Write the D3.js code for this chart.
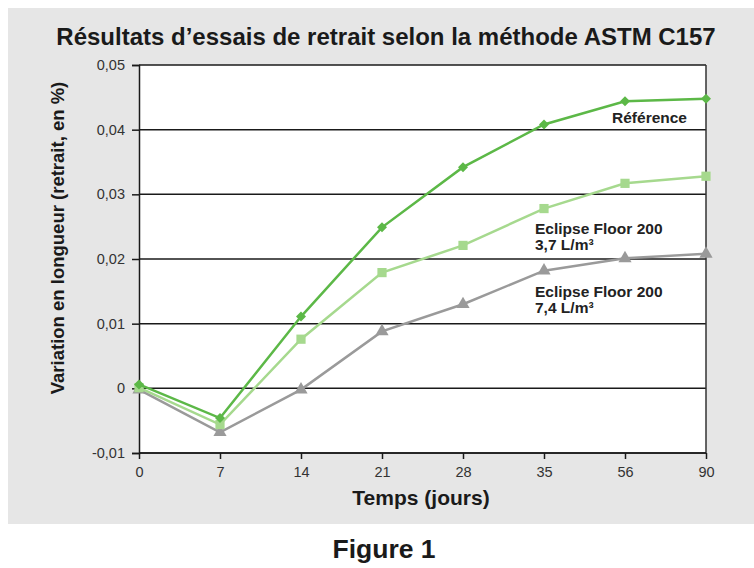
<!DOCTYPE html>
<html>
<head>
<meta charset="utf-8">
<script src="https://cdn.jsdelivr.net/npm/d3@7"></script>
<style>
  body { margin: 0; background: #fff; }
  svg { display: block; font-family: "Liberation Sans", Arial, sans-serif; }
</style>
</head>
<body>
<svg id="chart" width="754" height="568"></svg>
<script>
// days (categories on the x axis, evenly spaced)
var days = ["0", "7", "14", "21", "28", "35", "56", "90"];
var yTicks = [-0.01, 0, 0.01, 0.02, 0.03, 0.04, 0.05];

// series values, % shrinkage
var reference = [0.0006, -0.0046, 0.0111, 0.0249, 0.0342, 0.0408, 0.0444, 0.0448];
var eclipse37 = [0.0001, -0.0056, 0.0076, 0.0179, 0.0221, 0.0278, 0.0317, 0.0328];
var eclipse74 = [-0.0002, -0.0068, -0.0002, 0.0088, 0.0130, 0.0182, 0.0201, 0.0208];

var series = [
  {name: "eclipse74", values: eclipse74, color: "#9a9a9a", symbol: d3.symbolTriangle, size: 75, rot: 0},
  {name: "eclipse37", values: eclipse37, color: "#a6d98e", symbol: d3.symbolSquare, size: 85, rot: 0},
  {name: "reference", values: reference, color: "#5cb847", symbol: d3.symbolSquare, size: 50, rot: 45}
];

var svg = d3.select("#chart");

// grey panel
svg.append("rect")
  .attr("x", 8).attr("y", 8)
  .attr("width", 746).attr("height", 516)
  .attr("fill", "#e6e6e6");

var mLeft = 139, mRight = 706, mTop = 65, mBottom = 453;

var x = d3.scalePoint().domain(days).range([mLeft, mRight]);
var y = d3.scaleLinear().domain([-0.01, 0.05]).range([mBottom, mTop]);

// plot background
svg.append("rect")
  .attr("x", mLeft).attr("y", mTop)
  .attr("width", mRight - mLeft).attr("height", mBottom - mTop)
  .attr("fill", "#fff");

// horizontal grid lines
svg.append("g").selectAll("line")
  .data(yTicks)
  .enter().append("line")
  .attr("x1", mLeft).attr("x2", mRight)
  .attr("y1", function(d){ return y(d); })
  .attr("y2", function(d){ return y(d); })
  .attr("stroke", "#1a1a1a")
  .attr("stroke-width", 1.5);

// right border
svg.append("line")
  .attr("x1", mRight).attr("x2", mRight)
  .attr("y1", mTop).attr("y2", mBottom)
  .attr("stroke", "#333").attr("stroke-width", 1.5);

var fmt = function(d){ return d === 0 ? "0" : d3.format(".2f")(d).replace(".", ",").replace("−", "-"); };

var yAxis = svg.append("g")
  .attr("transform", "translate(" + mLeft + ",0)")
  .call(d3.axisLeft(y).tickValues(yTicks).tickSize(7).tickPadding(7).tickFormat(fmt));

var xAxis = svg.append("g")
  .attr("transform", "translate(0," + mBottom + ")")
  .call(d3.axisBottom(x).tickSize(6).tickPadding(8));

[yAxis, xAxis].forEach(function(ax){
  ax.select(".domain").attr("stroke", "#1a1a1a").attr("stroke-width", 1.5);
  ax.selectAll(".tick line").attr("stroke", "#1a1a1a").attr("stroke-width", 1.5);
  ax.selectAll(".tick text")
    .attr("fill", "#333")
    .style("font-size", "14.5px")
    .style("font-family", "'Liberation Sans', Arial, sans-serif");
});
xAxis.select(".domain").remove();
xAxis.append("line")
  .attr("x1", mLeft).attr("x2", mRight)
  .attr("stroke", "#1a1a1a").attr("stroke-width", 1.5);

var line = d3.line()
  .x(function(d, i){ return x(days[i]); })
  .y(function(d){ return y(d); });

series.forEach(function(s){
  svg.append("path")
    .datum(s.values)
    .attr("d", line)
    .attr("fill", "none")
    .attr("stroke", s.color)
    .attr("stroke-width", 2.5);

  svg.append("g").selectAll("path")
    .data(s.values)
    .enter().append("path")
    .attr("transform", function(d, i){ return "translate(" + x(days[i]) + "," + y(d) + ") rotate(" + s.rot + ")"; })
    .attr("d", d3.symbol().type(s.symbol).size(s.size))
    .attr("fill", s.color);
});

// series labels
var lab = svg.append("g")
  .attr("font-weight", "bold")
  .attr("font-size", "15.5px")
  .attr("fill", "#222");

lab.append("text").attr("x", 687).attr("y", y(0.041)).attr("text-anchor", "end").text("Référence");

var t1 = lab.append("text").attr("x", 535).attr("y", y(0.0239));
t1.append("tspan").attr("x", 535).text("Eclipse Floor 200");
t1.append("tspan").attr("x", 535).attr("dy", 16).text("3,7 L/m³");

var t2 = lab.append("text").attr("x", 535).attr("y", y(0.0141));
t2.append("tspan").attr("x", 535).text("Eclipse Floor 200");
t2.append("tspan").attr("x", 535).attr("dy", 16).text("7,4 L/m³");

// titles
svg.append("text")
  .attr("x", 386).attr("y", 45)
  .attr("text-anchor", "middle")
  .attr("font-weight", "bold")
  .attr("font-size", "24px")
  .attr("fill", "#1a1a1a")
  .text("Résultats d’essais de retrait selon la méthode ASTM C157");

svg.append("text")
  .attr("transform", "translate(64,238) rotate(-90)")
  .attr("text-anchor", "middle")
  .attr("font-weight", "bold")
  .attr("font-size", "18.5px")
  .attr("fill", "#1a1a1a")
  .text("Variation en longueur (retrait, en %)");

svg.append("text")
  .attr("x", 421).attr("y", 505)
  .attr("text-anchor", "middle")
  .attr("font-weight", "bold")
  .attr("font-size", "21px")
  .attr("fill", "#1a1a1a")
  .text("Temps (jours)");

svg.append("text")
  .attr("x", 384).attr("y", 558)
  .attr("text-anchor", "middle")
  .attr("font-weight", "bold")
  .attr("font-size", "26.5px")
  .attr("fill", "#1a1a1a")
  .text("Figure 1");
</script>
</body>
</html>
